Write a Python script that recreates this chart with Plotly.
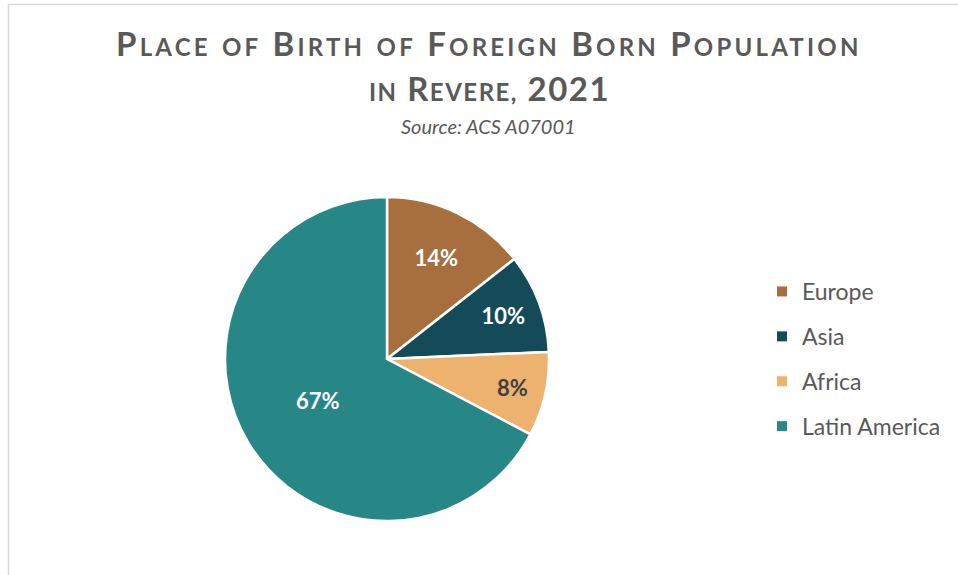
import plotly.graph_objects as go

# Data
regions = ["Europe", "Asia", "Africa", "Latin America"]
shares = [14.4, 9.9, 8.4, 67.3]
colors = ["#A86F3E", "#134B58", "#EEB26F", "#278787"]
label_colors = ["#FFFFFF", "#FFFFFF", "#404040", "#FFFFFF"]

W, H = 958, 575
FONT = "Lato"
GRAY = "#595959"


def px_x(x):
    return x / W


def px_y(y):
    return 1 - y / H


def sc_word(word, small):
    first, rest = word[0], word[1:]
    if first.isdigit():
        return word
    if first.isupper():
        if not rest:
            return first
        return first + f"<span style='font-size:{small}px'>{rest.upper()}</span>"
    return f"<span style='font-size:{small}px'>{word.upper()}</span>"


def small_caps(text, small, spacing):
    inner = " ".join(sc_word(w, small) for w in text.split(" "))
    return f"<span style='letter-spacing:{spacing}px'>{inner}</span>"


fig = go.Figure()

fig.add_trace(go.Pie(
    labels=regions,
    values=shares,
    sort=False,
    direction="clockwise",
    rotation=0,
    marker=dict(colors=colors, line=dict(color="white", width=2.5)),
    texttemplate="<b>%{percent:.0%}</b>",
    textposition="inside",
    insidetextorientation="horizontal",
    textfont=dict(family=FONT, size=22, color=label_colors),
    hoverinfo="label+percent",
    showlegend=False,
    domain=dict(x=[px_x(225), px_x(549)], y=[px_y(521), px_y(197)]),
))

# Legend entries (one group per region for spacing)
for name, c in zip(regions, colors):
    fig.add_trace(go.Scatter(
        x=[None], y=[None], mode="markers", name=name,
        marker=dict(symbol="square", size=10, color=c),
        legendgroup=name, showlegend=True, hoverinfo="skip",
    ))

title_l1 = small_caps("Place of Birth of Foreign Born Population", 24, 3.2)
title_l2 = small_caps("in Revere, 2021", 24, 1.5)

fig.add_annotation(x=px_x(489), y=px_y(43), xref="paper", yref="paper",
                   text="<b>" + title_l1 + "</b>", showarrow=False,
                   font=dict(family=FONT, size=33, color=GRAY), xanchor="center", yanchor="middle")
fig.add_annotation(x=px_x(489), y=px_y(88), xref="paper", yref="paper",
                   text="<b>" + title_l2 + "</b>", showarrow=False,
                   font=dict(family=FONT, size=33, color=GRAY), xanchor="center", yanchor="middle")
fig.add_annotation(x=px_x(488), y=px_y(126), xref="paper", yref="paper",
                   text="<i>Source: ACS A07001</i>", showarrow=False,
                   font=dict(family=FONT, size=20, color=GRAY), xanchor="center", yanchor="middle")

# Chart frame
fig.add_shape(type="rect", xref="paper", yref="paper",
              x0=px_x(8.5), y0=-0.02, x1=1.02, y1=px_y(4.5),
              line=dict(color="#D9D9D9", width=1.5), fillcolor="rgba(0,0,0,0)", layer="below")

fig.update_layout(
    width=W, height=H,
    margin=dict(l=0, r=0, t=0, b=0),
    paper_bgcolor="white", plot_bgcolor="white",
    xaxis=dict(visible=False), yaxis=dict(visible=False),
    showlegend=True,
    legend=dict(
        x=px_x(762), y=px_y(359), xanchor="left", yanchor="middle",
        font=dict(family=FONT, size=23, color=GRAY),
        tracegroupgap=12, itemwidth=30,
        bgcolor="rgba(0,0,0,0)",
    ),
    font=dict(family=FONT),
)

fig.write_html(
    "out.html",
    config={"displayModeBar": False},
    post_script="document.body.style.margin='0';document.body.style.overflow='hidden';",
)
